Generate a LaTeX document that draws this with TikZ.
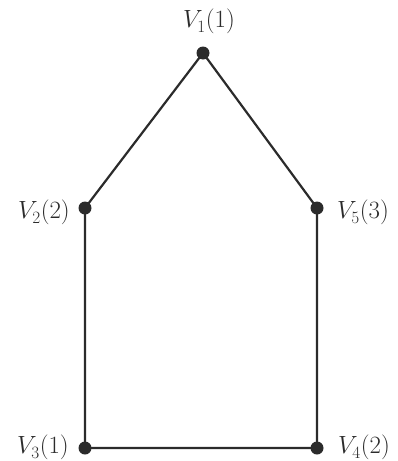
\documentclass[tikz,border=0pt]{standalone}
\usepackage{xcolor}
\definecolor{ink}{HTML}{2B2B2B}
\newcommand{\lbl}[2]{$V_{\lower2pt\hbox{$\scriptstyle #1$}}(#2)$}
\begin{document}
\begin{tikzpicture}[x=1pt,y=-1pt,
  vtx/.style={circle,fill=ink,inner sep=0pt,minimum size=13pt},
  lab/.style={font=\fontsize{25.5}{30}\selectfont,inner sep=0pt,text=ink},
  edge/.style={draw=ink,line width=2.2pt}]
\useasboundingbox (0,0) rectangle (397,461);
\node[vtx] (v1) at (203,53) {};
\node[vtx] (v2) at (85,208) {};
\node[vtx] (v5) at (317,208) {};
\node[vtx] (v3) at (85,448) {};
\node[vtx] (v4) at (317,448) {};
\path[edge] (v1.center) -- (v2.center) -- (v3.center) -- (v4.center) -- (v5.center) -- (v1.center);
\node[lab,anchor=base] (l1) at (209,27) {\lbl{1}{1}};
\node[lab,anchor=base east] (l2) at (70,218) {\lbl{2}{2}};
\node[lab,anchor=base west] (l5) at (337,218) {\lbl{5}{3}};
\node[lab,anchor=base east] (l3) at (69,453) {\lbl{3}{1}};
\node[lab,anchor=base west] (l4) at (338,453) {\lbl{4}{2}};
\end{tikzpicture}
\end{document}
